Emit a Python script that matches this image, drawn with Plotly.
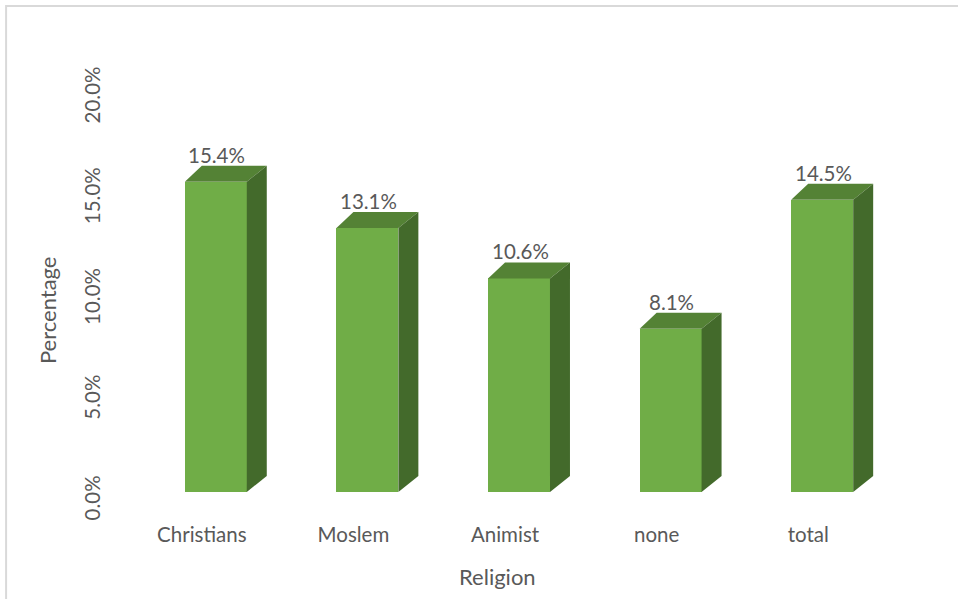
import plotly.graph_objects as go

# Share of respondents by religion
categories = ["Christians", "Moslem", "Animist", "none", "total"]
values = [15.4, 13.1, 10.6, 8.1, 14.5]
y_ticks = [0, 5, 10, 15, 20]
y_tick_labels = ["0.0%", "5.0%", "10.0%", "15.0%", "20.0%"]

FRONT = "#70AD47"
TOP = "#548235"
SIDE = "#436A2B"
TEXT = "#595959"
FONT = "Lato"

W, H = 958, 599
L, R, T, B = 140, 59.5, 89, 107
plot_w = W - L - R
plot_h = H - T - B
x_range = [-0.5, len(categories) - 0.5]
y_range = [0, 20]
px_x = plot_w / (x_range[1] - x_range[0])   # pixels per category unit
px_y = plot_h / (y_range[1] - y_range[0])   # pixels per percent

bar_w = 62 / px_x
# depth of the pseudo-3D extrusion (pixels -> data units)
dx_left = 17 / px_x
dx_right = 20 / px_x
dy = 16 / px_y

fig = go.Figure()

# front faces
xs = list(range(len(categories)))
fig.add_trace(go.Bar(
    x=xs, y=values, width=bar_w,
    marker=dict(color=FRONT, line=dict(width=0)),
    hoverinfo="skip", showlegend=False,
))

# top and side faces
for i, v in enumerate(values):
    x0 = i - bar_w / 2
    x1 = i + bar_w / 2
    fig.add_trace(go.Scatter(
        x=[x0, x1, x1 + dx_right, x0 + dx_left, x0],
        y=[v, v, v + dy, v + dy, v],
        fill="toself", fillcolor=TOP, mode="lines",
        line=dict(width=0, color=TOP), hoverinfo="skip", showlegend=False,
    ))
    fig.add_trace(go.Scatter(
        x=[x1, x1 + dx_right, x1 + dx_right, x1, x1],
        y=[0, dy, v + dy, v, 0],
        fill="toself", fillcolor=SIDE, mode="lines",
        line=dict(width=0, color=SIDE), hoverinfo="skip", showlegend=False,
    ))

# value labels
for i, v in enumerate(values):
    fig.add_annotation(
        x=i + 1 / px_x, y=v, text=f"{v:.1f}%", showarrow=False,
        xanchor="center", yanchor="bottom", yshift=13,
        font=dict(family=FONT, size=20.5, color=TEXT),
    )

# axis titles
fig.add_annotation(
    xref="paper", yref="paper", x=(47 - L) / plot_w, y=(H - B - 310) / plot_h,
    text="Percentage", textangle=-90, showarrow=False,
    xanchor="center", yanchor="middle",
    font=dict(family=FONT, size=22, color=TEXT),
)
fig.add_annotation(
    xref="paper", yref="paper", x=(498 - L) / plot_w, y=(H - B - 576) / plot_h,
    text="Religion", showarrow=False,
    xanchor="center", yanchor="middle",
    font=dict(family=FONT, size=22, color=TEXT),
)

# chart-area border
fig.add_shape(
    type="rect", xref="paper", yref="paper",
    x0=(6 - L) / plot_w, x1=(W + 20 - L) / plot_w,
    y0=(H - B - (H + 20)) / plot_h, y1=(H - B - 6) / plot_h,
    line=dict(color="#D9D9D9", width=2), fillcolor="rgba(0,0,0,0)",
)

fig.update_xaxes(
    range=x_range,
    tickvals=[i - 14 / px_x for i in xs], ticktext=categories,
    showgrid=False, zeroline=False, showline=False,
    ticks="outside", ticklen=24, tickcolor="rgba(0,0,0,0)",
    tickfont=dict(family=FONT, size=20.5, color=TEXT),
)
fig.update_yaxes(
    range=y_range, tickvals=y_ticks, ticktext=y_tick_labels,
    tickangle=-90, ticklabelshift=9,
    showgrid=False, zeroline=False, showline=False,
    ticks="outside", ticklen=31, tickcolor="rgba(0,0,0,0)",
    tickfont=dict(family=FONT, size=20.5, color=TEXT),
)

fig.update_layout(
    width=W, height=H,
    margin=dict(l=L, r=R, t=T, b=B, pad=0),
    paper_bgcolor="white", plot_bgcolor="white",
    bargap=0,
)

fig.write_html("out.html")
